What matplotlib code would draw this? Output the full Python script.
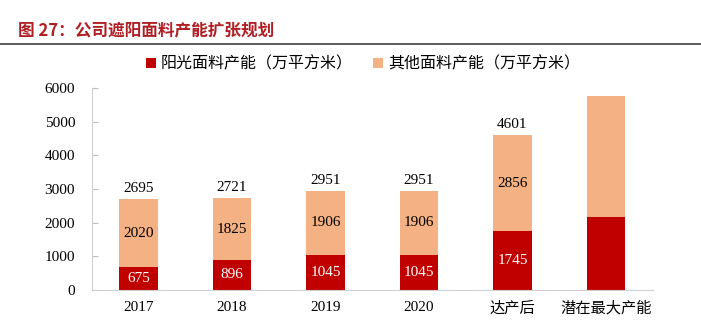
import numpy as np
import matplotlib
matplotlib.use("Agg")
import matplotlib.pyplot as plt

plt.rcParams['font.family'] = ['Liberation Serif', 'Noto Sans CJK SC', 'DejaVu Sans']

# Datos
categorias = ["2017", "2018", "2019", "2020", "达产后", "潜在最大产能"]
yangguang = [675, 896, 1045, 1045, 1745, 2170]
otros = [2020, 1825, 1906, 1906, 2856, 3590]
totales = [2695, 2721, 2951, 2951, 4601, None]
mostrar_seg = [True, True, True, True, True, False]

rojo = "#C00000"
naranja = "#F4B183"

fig = plt.figure(figsize=(7.01, 3.21), dpi=100)
ax = fig.add_axes([0.131, 0.097, 0.80, 0.629])

x = np.arange(len(categorias))
ancho = 0.41
b1 = ax.bar(x, yangguang, ancho, color=rojo, label="阳光面料产能（万平方米）")
b2 = ax.bar(x, otros, ancho, bottom=yangguang, color=naranja,
            label="其他面料产能（万平方米）")

for i in range(len(x)):
    if mostrar_seg[i]:
        ax.text(x[i], yangguang[i] / 2, str(yangguang[i]), ha="center", va="center",
                color="white", fontsize=11)
        ax.text(x[i], yangguang[i] + otros[i] / 2, str(otros[i]), ha="center",
                va="center", color="black", fontsize=11)
    if totales[i] is not None:
        ax.text(x[i], yangguang[i] + otros[i] + 120, str(totales[i]), ha="center",
                va="bottom", color="black", fontsize=11)

ax.set_xlim(-0.5, 5.5)
ax.set_ylim(0, 6000)
ax.set_yticks(range(0, 6001, 1000))
ax.set_xticks(x)
ax.set_xticklabels(categorias, fontsize=11)
ax.tick_params(axis="y", labelsize=11, direction="in", length=4, color="#BFBFBF", pad=12)
ax.tick_params(axis="x", length=0, pad=8)
for s in ["top", "right"]:
    ax.spines[s].set_visible(False)
for s in ["left", "bottom"]:
    ax.spines[s].set_color("#D0D0D0")

fig.legend(loc="center", bbox_to_anchor=(0.518, 0.80), ncol=2, frameon=False,
           handlelength=0.6, handleheight=0.6, columnspacing=1.3,
           handletextpad=0.3, prop={'family': ['Noto Sans CJK SC'], 'size': 11.5})

fig.text(0.026, 0.905, "图 27：公司遮阳面料产能扩张规划", color="#B01F24", fontsize=12,
         fontweight="bold", family=["Noto Sans CJK SC"], va="center")
fig.add_artist(plt.Line2D([0.0, 1.0], [0.863, 0.863], color="#404040", lw=1.2))

fig.savefig("out.png", dpi=100)
